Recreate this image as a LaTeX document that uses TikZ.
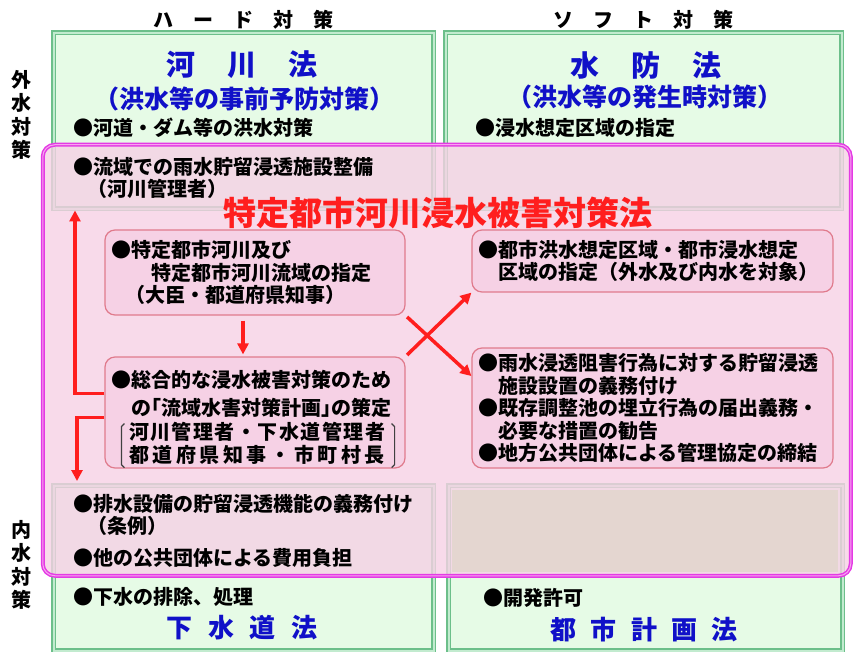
\documentclass[tikz,border=0pt]{standalone}
\usepackage{fontspec}
\setmainfont{Noto Sans CJK JP}
\usetikzlibrary{arrows.meta}
\definecolor{lawgreen}{HTML}{E6FBE6}
\definecolor{framegreen}{HTML}{6CBF8A}
\definecolor{framelight}{HTML}{C2EBCF}
\definecolor{zonepink}{HTML}{F6D1E5}
\definecolor{zoneedge}{HTML}{E43AE4}
\definecolor{zonelight}{HTML}{F7A6F0}
\definecolor{boxedge}{HTML}{E07A8C}
\definecolor{lawblue}{HTML}{1010C8}
\definecolor{actred}{HTML}{FF1E1E}
\definecolor{sandfill}{HTML}{E4D6D0}
\newcommand{\body}{\fontsize{20}{22.5}\selectfont\bfseries}
\tikzset{
  lawframe/.style={draw=framegreen, double=framelight, double distance=2pt,
    line width=1.5pt, fill=lawgreen, inner sep=0pt},
  zone/.style={draw=zoneedge, double=zonelight, double distance=1pt,
    line width=1.5pt, fill=zonepink, fill opacity=0.8, rounded corners=12pt, inner sep=0pt},
  rulebox/.style={draw=boxedge, line width=1.2pt, fill=zonepink, rounded corners=10pt,
    align=left, inner xsep=6pt, inner ysep=0pt, font=\body},
  item/.style={anchor=west, inner sep=0pt, align=left, font=\body},
  lawname/.style={inner sep=0pt, text=lawblue, font=\fontsize{29}{31}\selectfont\bfseries},
  lawnote/.style={inner sep=0pt, text=lawblue, font=\fontsize{25}{27}\selectfont\bfseries},
  headline/.style={inner sep=0pt, align=center, font=\fontsize{20}{23.5}\selectfont\bfseries},
  bracket/.style={draw=black!75, line width=1.2pt},
  redarrow/.style={draw=actred, line width=3.5pt, -{Triangle[length=11pt,width=11pt]}}
}
\begin{document}
\begin{tikzpicture}[x=1pt,y=-1pt]
    \useasboundingbox (0,0) rectangle (853,652);
    % the four laws
    \node[lawframe, minimum width=380pt, minimum height=176pt, anchor=north west] (rivlaw) at (53,32) {};
    \node[lawframe, minimum width=396pt, minimum height=176pt, anchor=north west] (floodlaw) at (445,32) {};
    \node[lawframe, minimum width=380pt, minimum height=165pt, anchor=north west] (sewlaw) at (53,485) {};
    \node[lawframe, minimum width=394pt, minimum height=165pt, anchor=north west] (planlaw) at (448,485) {};
    % the new act
    \node[zone, minimum width=808pt, minimum height=431pt, anchor=north west] (zone) at (42,144) {};
    \fill[sandfill] (452,490) rectangle (838,572);

    \node[headline] (hardlbl) at (243,20) {ハ\hspace{1em}ー\hspace{1em}ド\hspace{1em}対\hspace{1em}策};
    \node[headline] (softlbl) at (643,20) {ソ\hspace{1em}フ\hspace{1em}ト\hspace{1em}対\hspace{1em}策};
    \node[headline] (outerlbl) at (21,115) {外\\水\\対\\策};
    \node[headline] (innerlbl) at (21,565) {内\\水\\対\\策};

    \node[lawname] (rivname) at (242,65) {河\hspace{1.1em}川\hspace{1.1em}法};
    \node[lawnote] (rivnote) at (244,99) {（洪水等の事前予防対策）};
    \node[lawname] (floodname) at (646,65) {水\hspace{1.1em}防\hspace{1.1em}法};
    \node[lawnote] (floodnote) at (645,97) {（洪水等の発生時対策）};
    \node[lawname, font=\fontsize{26}{28}\selectfont\bfseries] (sewname) at (242,628) {下\hspace{.6em}水\hspace{.6em}道\hspace{.6em}法};
    \node[lawname, font=\fontsize{26}{28}\selectfont\bfseries] (planname) at (644,630) {都\hspace{.55em}市\hspace{.55em}計\hspace{.55em}画\hspace{.55em}法};

    \node[item] (rivitem) at (73,128) {●河道・ダム等の洪水対策};
    \node[item] (basinitem) at (73,178) {●流域での雨水貯留浸透施設整備\\\hspace*{.7em}（河川管理者）};
    \node[item] (flooditem) at (475,128) {●浸水想定区域の指定};
    \node[item] (drainitem) at (73,515) {●排水設備の貯留浸透機能の義務付け\\\hspace*{.7em}（条例）};
    \node[item] (costitem) at (73,558) {●他の公共団体による費用負担};
    \node[item] (sewitem) at (73,597) {●下水の排除、処理};
    \node[item] (devitem) at (483,598) {●開発許可};

    \node[font=\fontsize{33}{35}\selectfont\bfseries, text=actred, inner sep=0pt] (actname) at (438,213) {特定都市河川浸水被害対策法};

    % measures of the act
    \node[rulebox, minimum width=300pt, minimum height=85pt, text width=288pt] (desig) at (255,272.5)
        {●特定都市河川及び\\\hspace*{2em}特定都市河川流域の指定\\\hspace*{.7em}（大臣・都道府県知事）};
    \node[rulebox, minimum width=300pt, minimum height=111pt, text width=288pt] (plan) at (255,412.5)
        {\rule{0pt}{27.6pt}●総合的な浸水被害対策のため\\[5.5pt]
         \hspace*{1em}の\kern-.5em「流域水害対策計画」\kern-.5em の策定\\[1.5pt]
         \hspace*{.9em}{\addfontfeature{LetterSpace=7.5}河川管理者・下水道管理者}\\[.5pt]
         \hspace*{.9em}{\addfontfeature{LetterSpace=18}都道府県知事・市町村長}};
    \node[rulebox, minimum width=361pt, minimum height=62pt, text width=349pt] (area) at (652.5,261)
        {●都市洪水想定区域・都市浸水想定\\\hspace*{1em}区域の指定（外水及び内水を対象）};
    \node[rulebox, minimum width=361pt, minimum height=120pt, text width=349pt] (duty) at (652.5,408)
        {●雨水浸透阻害行為に対する貯留浸透\\\hspace*{1em}施設設置の義務付け\\●既存調整池の埋立行為の届出義務・\\\hspace*{1em}必要な措置の勧告\\●地方公共団体による管理協定の締結};
    % brackets round the planners
    \draw[bracket] ([xshift=20pt,yshift=45pt]plan.south west) -- ++(-3,3) -- ++(0,38) -- ++(3,3);
    \draw[bracket] ([xshift=-14pt,yshift=45pt]plan.south east) -- ++(3,3) -- ++(0,38) -- ++(-3,3);

    \draw[redarrow, shorten <=5pt, shorten >=2pt] ([xshift=-12pt]desig.south) -- ([xshift=-12pt]plan.north);
    \draw[redarrow, shorten <=2pt] (plan.north east) -- (area.south west);
    \draw[redarrow, shorten <=2pt] (desig.south east) -- (duty.170);
    \draw[redarrow, shorten >=1pt] ([yshift=19pt]plan.west) -| ([xshift=22pt]rivlaw.south west);
    \draw[redarrow, shorten >=4pt] ([yshift=-5pt]plan.west) -| ([xshift=24pt]sewlaw.north west);
\end{tikzpicture}
\end{document}
